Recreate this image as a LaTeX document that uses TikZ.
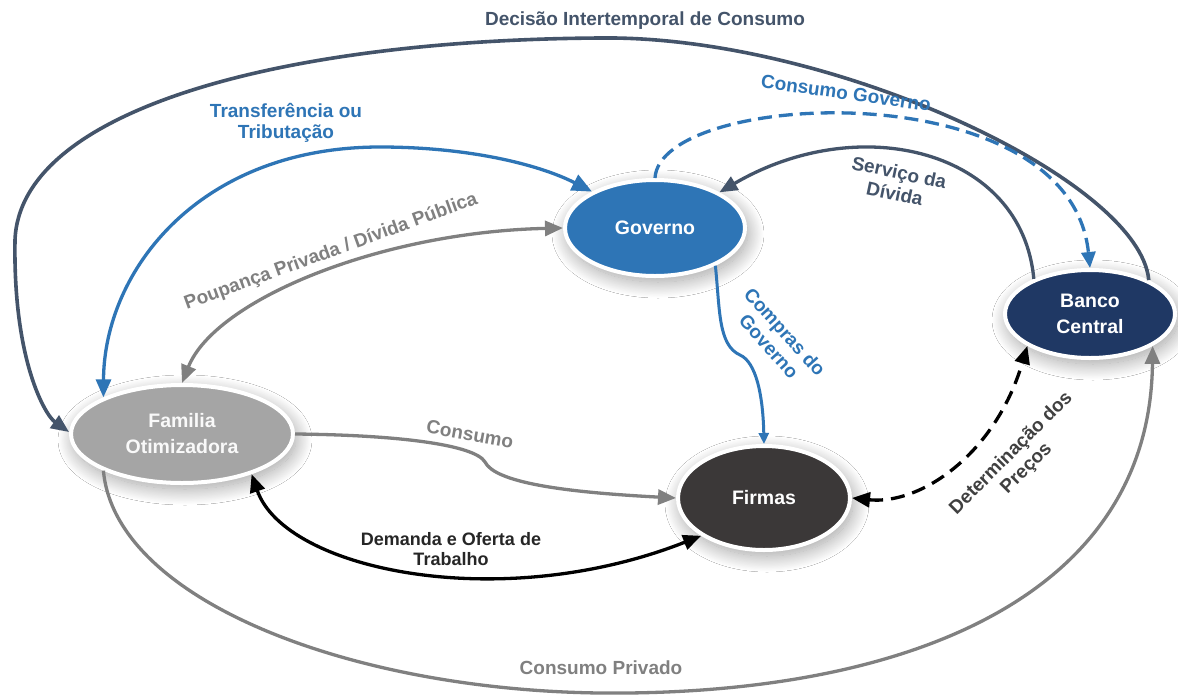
\documentclass[tikz,border=0pt]{standalone}
\usepackage{fontspec}
\setmainfont{Liberation Sans}
\usetikzlibrary{arrows.meta,shapes.geometric,shadows.blur}
\definecolor{govblue}{HTML}{2E75B6}
\definecolor{bcnavy}{HTML}{1F3864}
\definecolor{slate}{HTML}{44546A}
\definecolor{famgray}{HTML}{A5A5A5}
\definecolor{arrgray}{HTML}{808080}
\definecolor{firdark}{HTML}{3B3838}
\definecolor{txtdark}{HTML}{262626}
\definecolor{txtgray}{HTML}{404040}
\begin{document}
\begin{tikzpicture}[x=1pt,y=-1pt,
  nodebox/.style={ellipse, draw=white, line width=4pt, inner sep=0pt, outer sep=2pt,
    align=center, text=white, font=\bfseries\fontsize{19.5}{26}\selectfont,
    blur shadow={shadow xshift=3pt, shadow yshift=-6pt, shadow blur radius=16pt,
      shadow blur steps=30, shadow opacity=38}},
  lbl/.style={font=\bfseries\fontsize{19}{21.5}\selectfont, align=center, inner sep=0pt},
  conn/.style={line width=3.3pt},
  headB/.style={-{Triangle[length=18pt,width=15pt]}},
  headAB/.style={{Triangle[length=18pt,width=15pt]}-{Triangle[length=18pt,width=15pt]}},
]
\fill[white] (0,0) rectangle (1178,697);
\useasboundingbox (0,0) rectangle (1178,697);

% nodes
\node[nodebox, fill=govblue, minimum width=180pt, minimum height=96pt] (gov) at (655,228) {Governo};
\node[nodebox, fill=bcnavy, minimum width=170pt, minimum height=88pt] (bc) at (1090,314) {Banco\\Central};
\node[nodebox, fill=famgray, text=white!95!gray, minimum width=222pt, minimum height=98pt] (fam) at (182,434) {Familia\\Otimizadora};
\node[nodebox, fill=firdark, minimum width=172pt, minimum height=104pt] (fir) at (764,498) {Firmas};

% connectors
\draw[conn, slate, line width=3.6pt, headB] (bc.30) .. controls (1140,180) and (830,35) .. (600,38)
   .. controls (280,40) and (20,110) .. (15,240)
   .. controls (13,360) and (45,415) .. (fam.179);
\draw[conn, govblue, {Triangle[length=18pt,width=15pt]}-{Triangle[length=20pt,width=17pt]}]
   (fam.155) .. controls (104,270) and (200,147) .. (380,147)
   .. controls (470,147) and (540,165) .. (gov.150);
\draw[conn, arrgray, headAB] (fam.90) .. controls (215,300) and (380,232) .. (gov.180);
\draw[conn, govblue, dash pattern=on 14pt off 7pt, -{Triangle[length=16pt,width=14pt]}]
   (gov.90) .. controls (660,90) and (1070,70) .. (bc.90);
\draw[conn, slate, headB] (bc.148) .. controls (1022,150) and (860,110) .. (gov.29);
\draw[line width=3pt, govblue, -{Triangle[length=11pt,width=10pt]}] (gov.-32)
   .. controls (720,310) and (718,345) .. (740,355)
   .. controls (756,362) and (763,395) .. (fir.north);
\draw[conn, arrgray, headB] (fam.east) .. controls (400,435) and (475,445) .. (485,462)
   .. controls (495,482) and (560,492) .. (fir.west);
\draw[conn, black, headAB] (fam.-30) .. controls (285,570) and (500,615) .. (fir.211);
\draw[conn, black, dash pattern=on 14pt off 8pt, headAB] (fir.east) .. controls (920,505) and (995,455) .. (bc.207);
\draw[conn, arrgray, headB] (fam.205) .. controls (115,600) and (350,690) .. (600,693)
   .. controls (900,696) and (1150,600) .. (bc.-27);

% labels
\node[lbl, slate] (l1) at (645,21) {Decisão Intertemporal de Consumo};
\node[lbl, govblue] (l2) at (286,123) {Transferência ou\\Tributação};
\node[lbl, arrgray, rotate=20] (l3) at (331,252) {Poupança Privada / Dívida Pública};
\node[lbl, govblue, rotate=-8] (l4) at (846,93) {Consumo Governo};
\node[lbl, slate, rotate=-12] (l5) at (897,183) {Serviço da\\Dívida};
\node[lbl, govblue, rotate=-48] (l6) at (777,339) {Compras do\\Governo};
\node[lbl, arrgray, rotate=-10] (l7) at (470,434) {Consumo};
\node[lbl, txtdark, font=\bfseries\fontsize{18}{20}\selectfont] (l8) at (451,549) {Demanda e Oferta de\\Trabalho};
\node[lbl, txtgray, rotate=45] (l9) at (1019,461) {Determinação dos\\Preços};
\node[lbl, arrgray] (l10) at (601,668) {Consumo Privado};
\end{tikzpicture}
\end{document}
